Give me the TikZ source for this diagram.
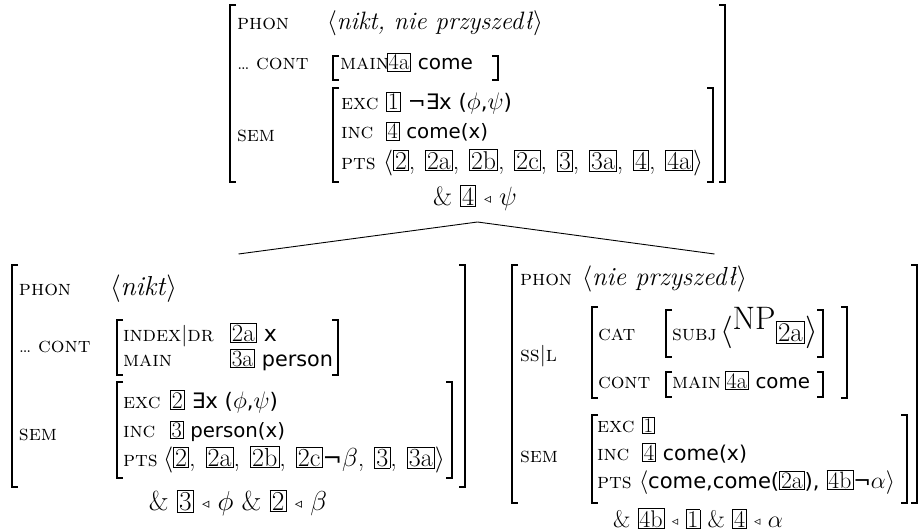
\documentclass[tikz,border=0pt]{standalone}
\usepackage{fontspec}
\usepackage{graphicx}
\usetikzlibrary{fit}
\newfontfamily\sansf{DejaVu Sans}
\newcommand\SC[1]{\textsc{#1}}
\newcommand\TB[1]{{\setlength\fboxsep{1pt}\setlength\fboxrule{0.6pt}\fbox{\rmfamily\upshape #1}}}
\newcommand\SF[1]{{\sansf\fontsize{18.5}{22}\selectfont #1}}
\newcommand\LT{\raisebox{1pt}{\sansf\bfseries\fontsize{11}{11}\selectfont ◃}}
\newcommand\CS{,\hspace{8pt}}
\newcommand\BF{\fontsize{20.74}{25}\selectfont}
\newcommand\LB[1]{\scalebox{1.04}{\fontsize{20.74}{25}\selectfont #1}}
\newcommand\RB[2]{\resizebox{#1pt}{!}{#2}}
\tikzset{
  txt/.style={anchor=base west, inner sep=0pt, outer sep=0pt, font=\BF},
  lbl/.style={anchor=base west, inner sep=0pt, outer sep=0pt, font=\BF},
  ctr/.style={anchor=base, inner sep=0pt, outer sep=0pt, font=\BF},
  brk/.style={line width=1.3pt, line cap=butt},
  conn/.style={line width=0.9pt},
  box/.style={inner sep=0pt, outer sep=0pt}
}
\begin{document}
\begin{tikzpicture}[x=1pt, y=-1pt]
\useasboundingbox (0,0) rectangle (921,532);
% ---------------- top AVM ----------------
\draw[brk] (236,5) -- (230,5) -- (230,182) -- (236,182);
\draw[brk] (719,5) -- (725,5) -- (725,182) -- (719,182);
\node[lbl] (tphonl) at (237,30) {\LB{\SC{phon}}};
\node[txt] (tphonv) at (327,30) {\RB{216}{$\langle$\textit{nikt, nie przyszedł}$\rangle$}};
\node[lbl] (tcontl) at (237,70) {\LB{\ldots{} \SC{cont}}};
\draw[brk] (339,56) -- (333,56) -- (333,80) -- (339,80);
\node[lbl] (tmainl) at (340,70) {\LB{\SC{main}}};
\node[txt] (tcontv) at (387,70) {\RB{86}{\TB{4a} \SF{come}}};
\draw[brk] (492,56) -- (498,56) -- (498,80) -- (492,80);
\node[lbl] (tseml) at (237,142) {\LB{\SC{sem}}};
\draw[brk] (339,88) -- (333,88) -- (333,182) -- (339,182);
\draw[brk] (707,88) -- (713,88) -- (713,182) -- (707,182);
\node[lbl] (texcl) at (341,110) {\LB{\SC{exc}}};
\node[txt] (texcv) at (386,110) {\RB{126}{\TB{1} \SF{¬∃x (}$\phi$\SF{,}$\psi$\SF{)}}};
\node[lbl] (tincl) at (341,139) {\LB{\SC{inc}}};
\node[txt] (tincv) at (386,139) {\RB{102}{\TB{4} \SF{come(x)}}};
\node[lbl] (tptsl) at (341,169) {\LB{\SC{pts}}};
\node[txt] (tptsv) at (383,169) {\RB{320}{$\big\langle$\TB{2}\CS\TB{2a}\CS\TB{2b}\CS\TB{2c}\CS\TB{3}\CS\TB{3a}\CS\TB{4}\CS\TB{4a}$\big\rangle$}};
\node[ctr] (tand) at (475,205) {\RB{84}{\& \TB{4} \LT{} $\psi$}};
\node[fit={(230,5) (725,222)}, box] (top) {};
% ---------------- left AVM ----------------
\draw[brk] (18,265) -- (12,265) -- (12,487) -- (18,487);
\draw[brk] (459,265) -- (465,265) -- (465,487) -- (459,487);
\node[lbl] (lphonl) at (19,295) {\LB{\SC{phon}}};
\node[txt] (lphonv) at (110,295) {\RB{67}{$\langle$\textit{nikt}$\rangle$}};
\node[lbl] (lcontl) at (19,352) {\LB{\ldots{} \SC{cont}}};
\draw[brk] (123,320) -- (117,320) -- (117,375) -- (123,375);
\draw[brk] (332,320) -- (338,320) -- (338,375) -- (332,375);
\node[lbl] (lidxl) at (123,341) {\LB{\SC{index}$|$\SC{dr}}};
\node[txt] (lidxv) at (230,341) {\RB{47}{\TB{2a} \SF{x}}};
\node[lbl] (lmainl) at (123,366) {\LB{\SC{main}}};
\node[txt] (lmainv) at (230,366) {\RB{103}{\TB{3a} \SF{person}}};
\node[lbl] (lseml) at (19,440) {\LB{\SC{sem}}};
\draw[brk] (123,382) -- (117,382) -- (117,478) -- (123,478);
\draw[brk] (446,382) -- (452,382) -- (452,478) -- (446,478);
\node[lbl] (lexcl) at (123,408) {\LB{\SC{exc}}};
\node[txt] (lexcv) at (170,408) {\RB{108}{\TB{2} \SF{∃x (}$\phi$\SF{,}$\psi$\SF{)}}};
\node[lbl] (lincl) at (123,437) {\LB{\SC{inc}}};
\node[txt] (lincv) at (170,437) {\RB{115}{\TB{3} \SF{person(x)}}};
\node[lbl] (lptsl) at (123,466) {\LB{\SC{pts}}};
\node[txt] (lptsv) at (163,466) {\RB{282}{$\big\langle$\TB{2}\CS\TB{2a}\CS\TB{2b}\CS\TB{2c}\SF{¬}$\beta$\CS\TB{3}\CS\TB{3a}$\big\rangle$}};
\node[ctr] (land) at (238,510) {\RB{178}{\& \TB{3} \LT{} $\phi$ \& \TB{2} \LT{} $\beta$}};
\node[fit={(12,254) (465,512)}, box] (left) {};
% ---------------- right AVM ----------------
\draw[brk] (518,265) -- (512,265) -- (512,503) -- (518,503);
\draw[brk] (911,265) -- (917,265) -- (917,503) -- (911,503);
\node[lbl] (rphonl) at (520,285) {\LB{\SC{phon}}};
\node[txt] (rphonv) at (582,285) {\RB{165}{$\langle$\textit{nie przyszedł}$\rangle$}};
\node[lbl] (rssl) at (520,361) {\LB{\SC{ss}$|$\SC{l}}};
\draw[brk] (598,307) -- (592,307) -- (592,398) -- (598,398);
\draw[brk] (841,307) -- (847,307) -- (847,398) -- (841,398);
\node[lbl] (rcatl) at (598,340) {\LB{\SC{cat}}};
\draw[brk] (672,310) -- (666,310) -- (666,357) -- (672,357);
\node[lbl] (rsubjl) at (672,340) {\LB{\SC{subj}}};
\node[txt] (rcatv) at (720,340) {\RB{98}{$\Big\langle$\raisebox{7pt}{NP}\raisebox{-1pt}{\fontsize{17.28}{20}\selectfont\TB{2a}}$\Big\rangle$}};
\draw[brk] (817,310) -- (823,310) -- (823,357) -- (817,357);
\node[lbl] (rcontl) at (598,388) {\LB{\SC{cont}}};
\draw[brk] (672,372) -- (666,372) -- (666,397) -- (672,397);
\node[lbl] (rmainl) at (672,388) {\LB{\SC{main}}};
\node[txt] (rcontv) at (725,388) {\RB{85}{\TB{4a} \SF{come}}};
\draw[brk] (817,372) -- (823,372) -- (823,397) -- (817,397);
\node[lbl] (rseml) at (520,462) {\LB{\SC{sem}}};
\draw[brk] (598,415) -- (592,415) -- (592,503) -- (598,503);
\draw[brk] (901,415) -- (907,415) -- (907,503) -- (901,503);
\node[lbl] (rexcl) at (597,432) {\LB{\SC{exc}}};
\node[txt] (rexcv) at (642,432) {\TB{1}};
\node[lbl] (rincl) at (597,460) {\LB{\SC{inc}}};
\node[txt] (rincv) at (642,460) {\RB{105}{\TB{4} \SF{come(x)}}};
\node[lbl] (rptsl) at (597,488) {\LB{\SC{pts}}};
\node[txt] (rptsv) at (639,488) {\RB{256}{$\big\langle$\SF{come,come(}\TB{2a}\SF{),} \TB{4b}\SF{¬}$\alpha\big\rangle$}};
\node[ctr] (rand) at (698,527) {\RB{170}{\& \TB{4b} \LT{} \TB{1} \& \TB{4} \LT{} $\alpha$}};
\node[fit={(512,254) (917,530)}, box] (right) {};
% ---------------- connectors ----------------
\draw[conn] (top.south) -- (left.north);
\draw[conn] (top.south) -- (right.north);
\end{tikzpicture}
\end{document}
